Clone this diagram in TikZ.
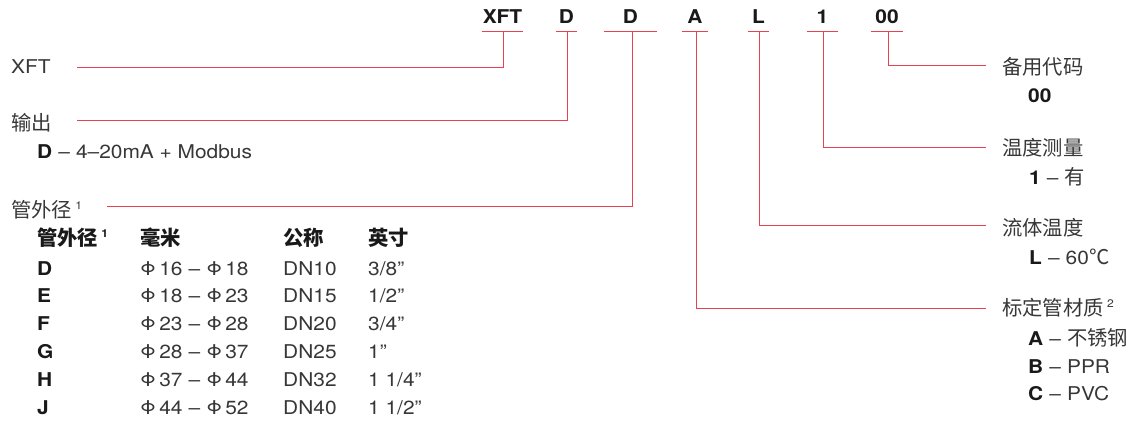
\documentclass[tikz,border=0pt]{standalone}
\usepackage{fontspec}
\setmainfont{TeX Gyre Heros}[FakeStretch=1.1]
\newfontfamily\cjk[Scale=1.07]{Noto Sans CJK SC}
\definecolor{lred}{RGB}{232,66,82}
\definecolor{txt}{RGB}{55,55,55}
\definecolor{btxt}{RGB}{25,25,25}
\newcommand{\supnum}[1]{\,{\fontsize{11}{11}\selectfont\raisebox{7.5pt}{#1}}}
\newcommand{\sep}{\hspace{0.32em}–\hspace{0.32em}}
\begin{document}
\begin{tikzpicture}[x=1pt,y=-1pt,
  lbl/.style={anchor=base west, inner sep=0pt, text=txt, font=\fontsize{19}{21}\selectfont},
  code/.style={anchor=base, inner sep=0pt, text=btxt, font=\fontsize{19}{21}\selectfont\bfseries},
  conn/.style={draw=lred, line width=0.9pt}]
\useasboundingbox (0,0) rectangle (1135,426);

% top code letters
\node[code] (cXFT) at (502.5,23) {XFT};
\node[code] (cD1) at (566.5,23) {D};
\node[code] (cD2) at (630.5,23) {D};
\node[code] (cA) at (695,23) {A};
\node[code] (cL) at (758.5,23) {L};
\node[code] (c1) at (822.5,23) {1};
\node[code] (c00) at (887,23) {00};

% underlines
\coordinate (uXa) at (482,31.5); \coordinate (uXb) at (523,31.5);
\coordinate (uD1a) at (556,31.5); \coordinate (uD1b) at (577,31.5);
\coordinate (uD2a) at (604,31.5); \coordinate (uD2b) at (657,31.5);
\coordinate (uAa) at (682,31.5); \coordinate (uAb) at (708,31.5);
\coordinate (uLa) at (748,31.5); \coordinate (uLb) at (769,31.5);
\coordinate (u1a) at (807,31.5); \coordinate (u1b) at (838,31.5);
\coordinate (u0a) at (871,31.5); \coordinate (u0b) at (903,31.5);
\draw[conn] (uXa) -- (uXb);
\draw[conn] (uD1a) -- (uD1b);
\draw[conn] (uD2a) -- (uD2b);
\draw[conn] (uAa) -- (uAb);
\draw[conn] (uLa) -- (uLb);
\draw[conn] (u1a) -- (u1b);
\draw[conn] (u0a) -- (u0b);

% connector start points (underline centres)
\coordinate (tX) at (503,31.5);
\coordinate (tD1) at (567,31.5);
\coordinate (tD2) at (632,31.5);
\coordinate (tA) at (696,31.5);
\coordinate (tL) at (759,31.5);
\coordinate (t1) at (823,31.5);
\coordinate (t0) at (888,31.5);

% connector ends
\coordinate (eX) at (77,67);
\coordinate (eD1) at (77,120);
\coordinate (eD2) at (107,206);
\coordinate (eA) at (986,308);
\coordinate (eL) at (986,225);
\coordinate (e1) at (986,147);
\coordinate (e0) at (986,65);

\draw[conn] (tX) |- (eX);
\draw[conn] (tD1) |- (eD1);
\draw[conn] (tD2) |- (eD2);
\draw[conn] (tA) |- (eA);
\draw[conn] (tL) |- (eL);
\draw[conn] (t1) |- (e1);
\draw[conn] (t0) |- (e0);

% left labels
\node[lbl] (lXFT) at (11,73) {XFT};
\node[lbl] (lOut) at (11,130) {\cjk 输出};
\node[lbl] (lOutD) at (37,158) {\textcolor{btxt}{\textbf{D}}\sep 4–20mA + Modbus};
\node[lbl] (lDia) at (11,217) {{\cjk 管外径}\supnum{1}};

% table header
\node[lbl,text=btxt] (h1) at (37,245) {{\cjk\bfseries 管外径}\supnum{\textbf{1}}};
\node[lbl,text=btxt] (h2) at (140,245) {\cjk\bfseries 毫米};
\node[lbl,text=btxt] (h3) at (283,245) {\cjk\bfseries 公称};
\node[lbl,text=btxt] (h4) at (368,245) {\cjk\bfseries 英寸};

% table rows
\node[lbl,text=btxt] (rD) at (37,275) {\textbf{D}};
\node[lbl] (pD) at (140,275) {Φ\,16\sep Φ\,18};
\node[lbl] (nD) at (283,275) {DN10};
\node[lbl] (iD) at (368,275) {3/8”};

\node[lbl,text=btxt] (rE) at (37,302.5) {\textbf{E}};
\node[lbl] (pE) at (140,302.5) {Φ\,18\sep Φ\,23};
\node[lbl] (nE) at (283,302.5) {DN15};
\node[lbl] (iE) at (368,302.5) {1/2”};

\node[lbl,text=btxt] (rF) at (37,330) {\textbf{F}};
\node[lbl] (pF) at (140,330) {Φ\,23\sep Φ\,28};
\node[lbl] (nF) at (283,330) {DN20};
\node[lbl] (iF) at (368,330) {3/4”};

\node[lbl,text=btxt] (rG) at (37,358) {\textbf{G}};
\node[lbl] (pG) at (140,358) {Φ\,28\sep Φ\,37};
\node[lbl] (nG) at (283,358) {DN25};
\node[lbl] (iG) at (368,358) {1”};

\node[lbl,text=btxt] (rH) at (37,386) {\textbf{H}};
\node[lbl] (pH) at (140,386) {Φ\,37\sep Φ\,44};
\node[lbl] (nH) at (283,386) {DN32};
\node[lbl] (iH) at (368,386) {1 1/4”};

\node[lbl,text=btxt] (rJ) at (37,414) {\textbf{J}};
\node[lbl] (pJ) at (140,414) {Φ\,44\sep Φ\,52};
\node[lbl] (nJ) at (283,414) {DN40};
\node[lbl] (iJ) at (368,414) {1 1/2”};

% right labels
\node[lbl] (rSpare) at (1002,74) {\cjk 备用代码};
\node[lbl,text=btxt] (rSpareV) at (1028,102) {\textbf{00}};
\node[lbl] (rTemp) at (1002,155) {\cjk 温度测量};
\node[lbl] (rTempV) at (1029,184) {\textcolor{btxt}{\textbf{1}}\sep{\cjk 有}};
\node[lbl] (rFluid) at (1002,235) {\cjk 流体温度};
\node[lbl] (rFluidV) at (1029,264) {\textcolor{btxt}{\textbf{L}}\sep 60{\cjk ℃}};
\node[lbl] (rMat) at (1002,315) {{\cjk 标定管材质}\supnum{2}};
\node[lbl] (rMatA) at (1028,345) {\textcolor{btxt}{\textbf{A}}\sep{\cjk 不锈钢}};
\node[lbl] (rMatB) at (1028,373) {\textcolor{btxt}{\textbf{B}}\sep PPR};
\node[lbl] (rMatC) at (1028,400) {\textcolor{btxt}{\textbf{C}}\sep PVC};
\end{tikzpicture}
\end{document}
